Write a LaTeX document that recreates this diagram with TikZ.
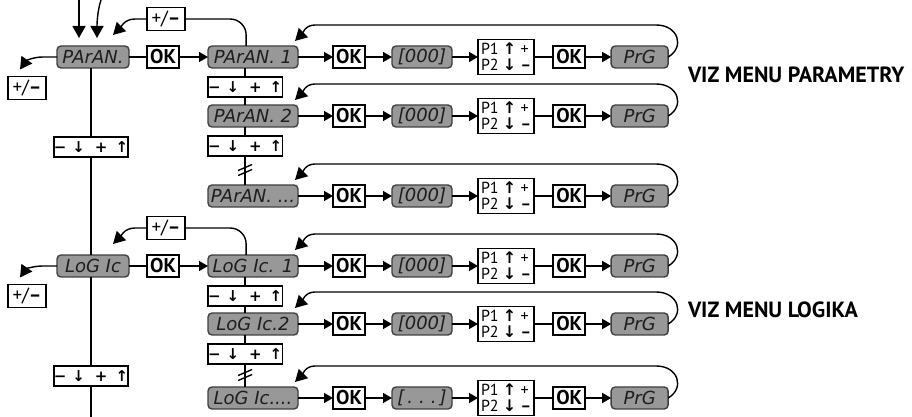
\documentclass[tikz,border=0pt]{standalone}
\usepackage{fontspec}
\setmainfont{PT Sans}
\newfontfamily\segfont{DejaVu Sans}
\newfontfamily\symfont{DejaVu Sans}
\usetikzlibrary{arrows.meta, positioning, calc}

\definecolor{lcdfill}{RGB}{152,152,152}
\definecolor{lcdtext}{RGB}{30,30,30}

\begin{document}
\begin{tikzpicture}[
    x=0.5pt, y=0.5pt,
    line width=0.7pt,
    every node/.style={inner sep=0pt, outer sep=0pt},
    lcd/.style={rectangle, draw=black!75, fill=lcdfill, rounded corners=2pt, minimum height=11pt, text=lcdtext, font=\segfont\itshape\fontsize{9}{9}\selectfont},
    mainlcd/.style={lcd, minimum width=36pt},
    sublcd/.style={lcd, minimum width=45pt, anchor=west},
    vallcd/.style={lcd, minimum width=30pt},
    prglcd/.style={lcd, minimum width=28.5pt},
    okbox/.style={rectangle, draw, fill=white, minimum width=16pt, minimum height=11pt, font=\bfseries\fontsize{10}{10}\selectfont},
    pmbox/.style={rectangle, draw, fill=white, minimum width=19pt, minimum height=11.5pt, font=\fontsize{9.5}{10}\selectfont},
    stepbox/.style={rectangle, draw, fill=white, minimum width=36pt, minimum height=10pt, font=\symfont\bfseries\fontsize{7.5}{8}\selectfont},
    keybox/.style={rectangle, draw, fill=white, minimum width=27.5pt, minimum height=17.5pt, inner xsep=1.5pt, align=left, font=\fontsize{8}{8}\selectfont},
    arrow/.style={-{Triangle[length=4.5pt,width=5pt]}},
    bigarrow/.style={-{Triangle[length=6pt,width=6.5pt]}},
    title/.style={anchor=west, font=\bfseries\fontsize{11}{13}\selectfont}
]
\useasboundingbox (0,0) rectangle (912,-417);

% ============ PARAMETRY ============
\node[mainlcd] (pa_main) at (93,-57) {PArAN.};
\node[okbox] (pa_ok) at (163,-57) {OK};
\node[pmbox] (pa_back) at (166,-19) {+/{\bfseries –}};
\node[pmbox] (pa_out) at (27,-88) {+/{\bfseries –}};
\node[stepbox] (pa_next) at (91,-147) {−\hspace{3pt}↓\hspace{5pt}+\hspace{4pt}↑};

% Entry arrows
\coordinate (in_a) at (79,0);
\coordinate (in_b) at (101,0);
\draw[bigarrow, shorten >=4pt] (in_a) -- (in_a |- pa_main.north);
\draw[bigarrow, shorten >=4pt] (in_b) .. controls +(-4,-12) and +(0,20) .. ($(pa_main.north)+(4,0)$);

% Main links
\draw (pa_main) -- (pa_ok);
\draw[bigarrow] (pa_main.west) -- ++(-14,0) to[out=180,in=55] ($(pa_out.north west)+(12,7)$);
\draw (pa_main.south -| pa_next) -- (pa_next);

% Row 1
\node[sublcd] (pa_s1) at (208,-57) {PArAN. 1};
\node[okbox, right=17.5pt of pa_s1] (pa_s1ok) {OK};
\node[vallcd, right=13.5pt of pa_s1ok] (pa_s1val) {[000]};
\node[keybox, right=13pt of pa_s1val] (pa_s1key) {P1 {\symfont\bfseries ↑} +\\P2 {\symfont\bfseries ↓} {\bfseries –}};
\node[okbox, right=9.5pt of pa_s1key] (pa_s1set) {OK};
\node[prglcd, right=13pt of pa_s1set] (pa_s1prg) {PrG};
\draw[arrow] (pa_ok) -- (pa_s1);
\draw[arrow] (pa_s1) -- (pa_s1ok);
\draw[arrow] (pa_s1ok) -- (pa_s1val);
\draw[arrow] (pa_s1val) -- (pa_s1key);
\draw (pa_s1key) -- (pa_s1set);
\draw[arrow] (pa_s1set) -- (pa_s1prg);
\draw[bigarrow] (pa_s1prg.east) .. controls +(17,10) and +(22,0) .. ($(pa_s1prg.east)+(-12,32)$) -- ($(pa_s1.north east)+(17,21)$) to[out=180,in=45] ($(pa_s1.north east)+(-3,5)$);

% Back to menu
\draw[rounded corners=8pt] (pa_s1.north -| pa_next.east) ++(118,0) |- (pa_back.east);
\draw[bigarrow] (pa_back.west) -- ++(-12,0) to[out=180,in=45] ($(pa_main.north east)+(-16,11)$);

% Step 1
\node[stepbox, anchor=west] (pa_st1) at (208,-87) {−\hspace{3pt}↓\hspace{5pt}+\hspace{4pt}↑};
\draw (pa_s1.south -| pa_st1) -- (pa_st1);

% Row 2
\node[sublcd] (pa_s2) at (208,-116) {PArAN. 2};
\node[okbox, right=17.5pt of pa_s2] (pa_s2ok) {OK};
\node[vallcd, right=13.5pt of pa_s2ok] (pa_s2val) {[000]};
\node[keybox, right=13pt of pa_s2val] (pa_s2key) {P1 {\symfont\bfseries ↑} +\\P2 {\symfont\bfseries ↓} {\bfseries –}};
\node[okbox, right=9.5pt of pa_s2key] (pa_s2set) {OK};
\node[prglcd, right=13pt of pa_s2set] (pa_s2prg) {PrG};
\draw (pa_st1) -- (pa_s2.north -| pa_st1);
\draw[arrow] (pa_s2) -- (pa_s2ok);
\draw[arrow] (pa_s2ok) -- (pa_s2val);
\draw[arrow] (pa_s2val) -- (pa_s2key);
\draw (pa_s2key) -- (pa_s2set);
\draw[arrow] (pa_s2set) -- (pa_s2prg);
\draw[bigarrow] (pa_s2prg.east) .. controls +(17,10) and +(22,0) .. ($(pa_s2prg.east)+(-12,32)$) -- ($(pa_s2.north east)+(17,21)$) to[out=180,in=45] ($(pa_s2.north east)+(-3,5)$);

% Step 2 and break
\node[stepbox, anchor=west] (pa_st2) at (208,-146) {−\hspace{3pt}↓\hspace{5pt}+\hspace{4pt}↑};
\draw (pa_s2.south -| pa_st2) -- (pa_st2);

% Row 3
\node[sublcd] (pa_s3) at (208,-196) {PArAN. ...};
\node[okbox, right=17.5pt of pa_s3] (pa_s3ok) {OK};
\node[vallcd, right=13.5pt of pa_s3ok] (pa_s3val) {[000]};
\node[keybox, right=13pt of pa_s3val] (pa_s3key) {P1 {\symfont\bfseries ↑} +\\P2 {\symfont\bfseries ↓} {\bfseries –}};
\node[okbox, right=9.5pt of pa_s3key] (pa_s3set) {OK};
\node[prglcd, right=13pt of pa_s3set] (pa_s3prg) {PrG};
\draw (pa_st2) -- (pa_s3.north -| pa_st2) coordinate[pos=0.5] (pa_brk);
\draw ($(pa_brk)+(-7,-5)$) -- ++(14,6);
\draw ($(pa_brk)+(-7,0)$) -- ++(14,6);
\draw[arrow] (pa_s3) -- (pa_s3ok);
\draw[arrow] (pa_s3ok) -- (pa_s3val);
\draw[arrow] (pa_s3val) -- (pa_s3key);
\draw (pa_s3key) -- (pa_s3set);
\draw[arrow] (pa_s3set) -- (pa_s3prg);
\draw[bigarrow] (pa_s3prg.east) .. controls +(17,10) and +(22,0) .. ($(pa_s3prg.east)+(-12,32)$) -- ($(pa_s3.north east)+(17,21)$) to[out=180,in=45] ($(pa_s3.north east)+(-3,5)$);

\node[title] (pa_title) at (688,-75) {VIZ MENU PARAMETRY};

% ============ LOGIKA ============
\node[mainlcd] (lo_main) at (93,-266) {LoG Ic};
\node[okbox] (lo_ok) at (163,-266) {OK};
\node[pmbox] (lo_back) at (166,-228) {+/{\bfseries –}};
\node[pmbox] (lo_out) at (27,-296) {+/{\bfseries –}};
\node[stepbox] (lo_next) at (91,-376) {−\hspace{3pt}↓\hspace{5pt}+\hspace{4pt}↑};
\coordinate (lo_end) at (91,-425);

\draw (pa_next) -- (lo_main.north -| pa_next);
\draw (lo_main) -- (lo_ok);
\draw[bigarrow] (lo_main.west) -- ++(-14,0) to[out=180,in=55] ($(lo_out.north west)+(12,7)$);
\draw (lo_main.south -| lo_next) -- (lo_next);
\draw (lo_next) -- (lo_end);

% Row 4
\node[sublcd] (lo_s1) at (208,-266) {LoG Ic. 1};
\node[okbox, right=17.5pt of lo_s1] (lo_s1ok) {OK};
\node[vallcd, right=13.5pt of lo_s1ok] (lo_s1val) {[000]};
\node[keybox, right=13pt of lo_s1val] (lo_s1key) {P1 {\symfont\bfseries ↑} +\\P2 {\symfont\bfseries ↓} {\bfseries –}};
\node[okbox, right=9.5pt of lo_s1key] (lo_s1set) {OK};
\node[prglcd, right=13pt of lo_s1set] (lo_s1prg) {PrG};
\draw[arrow] (lo_ok) -- (lo_s1);
\draw[arrow] (lo_s1) -- (lo_s1ok);
\draw[arrow] (lo_s1ok) -- (lo_s1val);
\draw[arrow] (lo_s1val) -- (lo_s1key);
\draw (lo_s1key) -- (lo_s1set);
\draw[arrow] (lo_s1set) -- (lo_s1prg);
\draw[bigarrow] (lo_s1prg.east) .. controls +(17,10) and +(22,0) .. ($(lo_s1prg.east)+(-12,32)$) -- ($(lo_s1.north east)+(17,21)$) to[out=180,in=45] ($(lo_s1.north east)+(-3,5)$);

% Back to menu
\draw[rounded corners=8pt] (lo_s1.north -| lo_next.east) ++(118,0) |- (lo_back.east);
\draw[bigarrow] (lo_back.west) -- ++(-12,0) to[out=180,in=45] ($(lo_main.north east)+(-16,11)$);

% Step 4
\node[stepbox, anchor=west] (lo_st1) at (208,-296) {−\hspace{3pt}↓\hspace{5pt}+\hspace{4pt}↑};
\draw (lo_s1.south -| lo_st1) -- (lo_st1);

% Row 5
\node[sublcd] (lo_s2) at (208,-324) {LoG Ic.2};
\node[okbox, right=17.5pt of lo_s2] (lo_s2ok) {OK};
\node[vallcd, right=13.5pt of lo_s2ok] (lo_s2val) {[000]};
\node[keybox, right=13pt of lo_s2val] (lo_s2key) {P1 {\symfont\bfseries ↑} +\\P2 {\symfont\bfseries ↓} {\bfseries –}};
\node[okbox, right=9.5pt of lo_s2key] (lo_s2set) {OK};
\node[prglcd, right=13pt of lo_s2set] (lo_s2prg) {PrG};
\draw (lo_st1) -- (lo_s2.north -| lo_st1);
\draw[arrow] (lo_s2) -- (lo_s2ok);
\draw[arrow] (lo_s2ok) -- (lo_s2val);
\draw[arrow] (lo_s2val) -- (lo_s2key);
\draw (lo_s2key) -- (lo_s2set);
\draw[arrow] (lo_s2set) -- (lo_s2prg);
\draw[bigarrow] (lo_s2prg.east) .. controls +(17,10) and +(22,0) .. ($(lo_s2prg.east)+(-12,32)$) -- ($(lo_s2.north east)+(17,21)$) to[out=180,in=45] ($(lo_s2.north east)+(-3,5)$);

% Step 5 and break
\node[stepbox, anchor=west] (lo_st2) at (208,-354) {−\hspace{3pt}↓\hspace{5pt}+\hspace{4pt}↑};
\draw (lo_s2.south -| lo_st2) -- (lo_st2);

% Row 6
\node[sublcd] (lo_s3) at (208,-398) {LoG Ic....};
\node[okbox, right=17.5pt of lo_s3] (lo_s3ok) {OK};
\node[vallcd, right=13.5pt of lo_s3ok] (lo_s3val) {[\,.\,\,.\,\,.\,]};
\node[keybox, right=13pt of lo_s3val] (lo_s3key) {P1 {\symfont\bfseries ↑} +\\P2 {\symfont\bfseries ↓} {\bfseries –}};
\node[okbox, right=9.5pt of lo_s3key] (lo_s3set) {OK};
\node[prglcd, right=13pt of lo_s3set] (lo_s3prg) {PrG};
\draw (lo_st2) -- (lo_s3.north -| lo_st2) coordinate[pos=0.5] (lo_brk);
\draw ($(lo_brk)+(-7,-5)$) -- ++(14,6);
\draw ($(lo_brk)+(-7,0)$) -- ++(14,6);
\draw[arrow] (lo_s3) -- (lo_s3ok);
\draw[arrow] (lo_s3ok) -- (lo_s3val);
\draw[arrow] (lo_s3val) -- (lo_s3key);
\draw (lo_s3key) -- (lo_s3set);
\draw[arrow] (lo_s3set) -- (lo_s3prg);
\draw[bigarrow] (lo_s3prg.east) .. controls +(17,10) and +(22,0) .. ($(lo_s3prg.east)+(-12,32)$) -- ($(lo_s3.north east)+(17,21)$) to[out=180,in=45] ($(lo_s3.north east)+(-3,5)$);

\node[title] (lo_title) at (688,-310) {VIZ MENU LOGIKA};

\end{tikzpicture}
\end{document}
